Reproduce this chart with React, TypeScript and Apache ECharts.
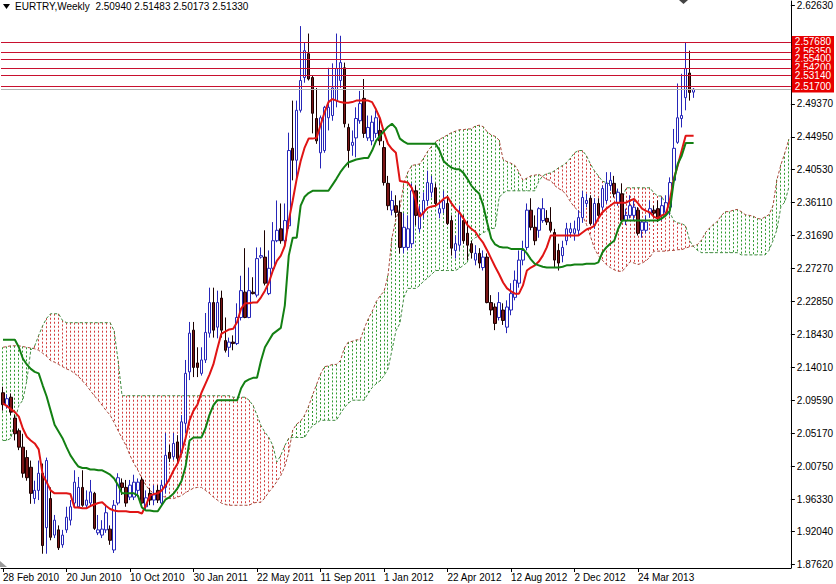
import React, { useEffect, useRef } from "react";
import * as echarts from "echarts";

// Weekly EURTRY candles, first bar = week of 28 Feb 2010
const opens = [
  2.106,2.089,2.100,2.072,2.055,2.033,2.019,2.006,1.964,1.975,
  1.998,1.925,1.964,1.915,1.922,1.902,1.922,1.935,1.958,1.953,
  1.979,1.955,1.958,1.971,1.918,1.915,1.922,1.923,1.895,1.958,
  1.985,1.979,1.966,1.966,1.975,1.989,1.953,1.971,1.962,1.975,
  1.958,1.979,2.026,2.020,2.040,2.025,2.065,2.134,2.190,2.146,
  2.132,2.150,2.186,2.227,2.194,2.233,2.176,2.167,2.174,2.172,
  2.207,2.241,2.207,2.241,2.237,2.288,2.288,2.239,2.273,2.310,
  2.326,2.310,2.330,2.434,2.418,2.485,2.529,2.561,2.529,2.474,
  2.428,2.431,2.475,2.478,2.498,2.525,2.542,2.462,2.438,2.448,
  2.471,2.501,2.448,2.444,2.454,2.458,2.435,2.387,2.351,2.357,
  2.348,2.301,2.301,2.306,2.377,2.326,2.347,2.364,2.375,2.381,
  2.347,2.353,2.360,2.337,2.297,2.304,2.337,2.320,2.306,2.284,
  2.293,2.274,2.288,2.227,2.221,2.207,2.217,2.194,2.217,2.234,
  2.253,2.284,2.301,2.351,2.328,2.324,2.337,2.340,2.335,2.321,
  2.297,2.290,2.310,2.321,2.320,2.324,2.341,2.360,2.367,2.331,
  2.360,2.355,2.364,2.384,2.387,2.361,2.373,2.337,2.344,2.344,
  2.351,2.324,2.324,2.347,2.351,2.353,2.344,2.348,2.355,2.391,
  2.442,2.474,2.502,2.535,2.5094,
];
const closes = [
  2.090,2.098,2.080,2.051,2.033,1.998,1.992,1.971,1.975,1.998,
  1.901,2.015,1.912,1.935,1.898,1.915,1.939,1.953,1.986,1.979,
  1.955,1.962,1.973,1.924,1.922,1.923,1.945,1.908,1.955,1.992,
  1.979,1.958,1.982,1.986,1.986,1.958,1.965,1.962,1.969,1.962,
  1.982,2.022,2.018,2.038,2.018,2.067,2.132,2.186,2.140,2.140,
  2.150,2.187,2.227,2.190,2.227,2.190,2.163,2.174,2.172,2.207,
  2.243,2.207,2.243,2.239,2.286,2.290,2.253,2.273,2.310,2.324,
  2.310,2.337,2.431,2.418,2.485,2.525,2.565,2.527,2.481,2.444,
  2.475,2.489,2.489,2.515,2.541,2.549,2.467,2.431,2.442,2.474,
  2.494,2.454,2.462,2.469,2.475,2.444,2.388,2.357,2.364,2.348,
  2.301,2.328,2.326,2.377,2.344,2.348,2.364,2.388,2.387,2.360,
  2.353,2.364,2.333,2.300,2.306,2.347,2.310,2.304,2.294,2.293,
  2.280,2.288,2.227,2.217,2.199,2.227,2.203,2.221,2.239,2.257,
  2.284,2.297,2.351,2.328,2.310,2.353,2.353,2.335,2.324,2.284,
  2.280,2.301,2.326,2.326,2.326,2.341,2.368,2.364,2.333,2.360,
  2.344,2.380,2.387,2.391,2.373,2.375,2.337,2.344,2.357,2.355,
  2.320,2.335,2.335,2.353,2.347,2.340,2.357,2.361,2.388,2.434,
  2.475,2.478,2.541,2.509,2.5133,
];
const lows = [
  2.082,2.085,2.076,2.042,2.029,1.992,1.988,1.957,1.957,1.962,
  1.890,1.890,1.908,1.911,1.895,1.898,1.918,1.928,1.953,1.951,
  1.953,1.951,1.953,1.922,1.915,1.911,1.918,1.902,1.891,1.955,
  1.969,1.953,1.962,1.962,1.966,1.953,1.949,1.955,1.955,1.958,
  1.955,1.971,2.013,2.016,2.013,2.022,2.052,2.123,2.127,2.127,
  2.129,2.146,2.180,2.180,2.179,2.180,2.160,2.154,2.163,2.170,
  2.203,2.206,2.206,2.238,2.234,2.286,2.250,2.237,2.270,2.308,
  2.306,2.306,2.326,2.391,2.391,2.482,2.522,2.525,2.454,2.440,
  2.407,2.428,2.458,2.471,2.489,2.515,2.462,2.408,2.424,2.422,
  2.467,2.448,2.444,2.438,2.448,2.438,2.384,2.351,2.344,2.341,
  2.293,2.293,2.297,2.300,2.331,2.321,2.340,2.357,2.368,2.357,
  2.340,2.347,2.331,2.290,2.286,2.297,2.306,2.284,2.286,2.277,
  2.273,2.270,2.226,2.210,2.190,2.203,2.197,2.186,2.210,2.230,
  2.247,2.277,2.297,2.324,2.304,2.314,2.334,2.331,2.321,2.274,
  2.270,2.281,2.304,2.314,2.310,2.317,2.334,2.355,2.331,2.326,
  2.340,2.351,2.360,2.377,2.368,2.357,2.334,2.331,2.340,2.337,
  2.317,2.314,2.320,2.341,2.341,2.335,2.337,2.344,2.344,2.387,
  2.440,2.462,2.485,2.498,2.50173,
];
const highs = [
  2.114,2.104,2.105,2.076,2.058,2.051,2.029,2.015,1.988,2.015,
  2.011,2.019,1.979,1.942,1.928,1.922,1.953,1.962,2.002,1.993,
  2.002,1.975,1.989,1.973,1.942,1.935,1.955,1.928,1.962,1.998,
  1.991,1.989,1.989,1.996,1.991,1.993,1.975,1.978,1.982,1.982,
  1.989,2.052,2.036,2.052,2.049,2.076,2.150,2.201,2.201,2.167,
  2.167,2.213,2.247,2.247,2.243,2.243,2.207,2.180,2.183,2.226,
  2.263,2.300,2.274,2.261,2.301,2.301,2.324,2.297,2.335,2.364,
  2.360,2.360,2.455,2.498,2.498,2.598,2.576,2.588,2.532,2.515,
  2.478,2.491,2.542,2.548,2.588,2.585,2.549,2.467,2.458,2.489,
  2.511,2.527,2.478,2.478,2.485,2.475,2.444,2.397,2.377,2.371,
  2.364,2.347,2.344,2.387,2.384,2.357,2.375,2.404,2.397,2.387,
  2.364,2.377,2.371,2.344,2.317,2.357,2.344,2.337,2.310,2.304,
  2.300,2.297,2.293,2.237,2.226,2.241,2.226,2.230,2.253,2.270,
  2.297,2.310,2.360,2.367,2.344,2.355,2.367,2.351,2.355,2.326,
  2.306,2.310,2.334,2.334,2.337,2.351,2.377,2.373,2.371,2.367,
  2.367,2.384,2.402,2.402,2.397,2.380,2.387,2.353,2.371,2.364,
  2.355,2.337,2.344,2.364,2.357,2.364,2.368,2.371,2.395,2.460,
  2.521,2.534,2.576,2.565,2.51483,
];

// Ichimoku lines
const tenkan = [
  2.092,2.088,2.084,2.080,2.074,2.058,2.047,2.042,2.038,2.030,
  1.996,1.986,1.975,1.971,1.971,1.971,1.971,1.970,1.952,1.952,
  1.951,1.951,1.954,1.956,1.958,1.959,1.954,1.950,1.948,1.947,
  1.947,1.947,1.946,1.946,1.946,1.944,1.955,1.968,1.970,1.971,
  1.975,1.982,1.991,2.002,2.011,2.026,2.045,2.069,2.082,2.090,
  2.106,2.118,2.130,2.144,2.165,2.185,2.188,2.191,2.192,2.201,
  2.219,2.226,2.226,2.227,2.227,2.234,2.243,2.254,2.270,2.283,
  2.290,2.303,2.337,2.364,2.393,2.417,2.435,2.447,2.447,2.448,
  2.465,2.482,2.496,2.500,2.498,2.496,2.495,2.495,2.496,2.498,
  2.498,2.498,2.498,2.496,2.486,2.474,2.455,2.440,2.433,2.428,
  2.390,2.389,2.388,2.381,2.364,2.342,2.348,2.354,2.356,2.357,
  2.361,2.366,2.369,2.360,2.353,2.348,2.340,2.331,2.326,2.322,
  2.314,2.307,2.297,2.286,2.275,2.265,2.254,2.246,2.242,2.239,
  2.239,2.250,2.270,2.274,2.277,2.282,2.290,2.301,2.317,2.317,
  2.317,2.317,2.317,2.317,2.317,2.317,2.321,2.325,2.327,2.330,
  2.340,2.348,2.353,2.357,2.361,2.361,2.361,2.361,2.364,2.366,
  2.360,2.353,2.350,2.348,2.342,2.340,2.344,2.346,2.364,2.393,
  2.411,2.431,2.451,2.451,2.451,
];
const kijun = [
  2.177,2.177,2.177,2.177,2.167,2.152,2.144,2.138,2.134,2.132,
  2.116,2.101,2.082,2.063,2.054,2.045,2.033,2.022,2.014,2.007,
  2.005,2.005,2.003,2.003,2.002,2.002,1.999,1.996,1.991,1.982,
  1.971,1.971,1.971,1.971,1.968,1.952,1.948,1.948,1.947,1.947,
  1.955,1.963,1.966,1.971,1.978,1.988,2.007,2.042,2.046,2.046,
  2.046,2.058,2.076,2.089,2.096,2.096,2.096,2.096,2.096,2.096,
  2.112,2.121,2.124,2.126,2.126,2.149,2.167,2.176,2.185,2.189,
  2.193,2.223,2.290,2.314,2.314,2.357,2.369,2.374,2.377,2.377,
  2.377,2.377,2.377,2.385,2.393,2.402,2.409,2.415,2.417,2.419,
  2.420,2.421,2.421,2.431,2.444,2.451,2.457,2.463,2.467,2.461,
  2.447,2.443,2.440,2.440,2.440,2.440,2.440,2.440,2.440,2.440,
  2.431,2.417,2.412,2.408,2.406,2.406,2.401,2.393,2.384,2.378,
  2.373,2.357,2.334,2.313,2.305,2.302,2.301,2.301,2.299,2.299,
  2.299,2.299,2.293,2.285,2.279,2.277,2.275,2.274,2.274,2.274,
  2.274,2.275,2.277,2.277,2.278,2.278,2.278,2.279,2.279,2.279,
  2.281,2.294,2.301,2.306,2.310,2.326,2.337,2.337,2.337,2.337,
  2.337,2.337,2.337,2.337,2.337,2.337,2.340,2.344,2.350,2.390,
  2.413,2.424,2.441,2.441,2.441,
];
const spanA = [
  2.167,2.168,2.169,2.169,2.169,2.168,2.167,2.166,2.165,2.163,
  2.159,2.155,2.149,2.147,2.144,2.141,2.138,2.136,2.132,2.128,
  2.122,2.116,2.109,2.102,2.096,2.089,2.082,2.076,2.066,2.055,
  2.045,2.035,2.022,2.011,2.002,1.991,1.982,1.975,1.971,1.968,
  1.967,1.966,1.964,1.964,1.966,1.968,1.972,1.975,1.978,1.979,
  1.979,1.975,1.971,1.966,1.962,1.958,1.956,1.955,1.955,1.955,
  1.955,1.955,1.955,1.958,1.959,1.959,1.965,1.973,1.979,1.987,
  1.995,2.007,2.026,2.056,2.064,2.068,2.076,2.088,2.103,2.117,
  2.131,2.141,2.142,2.144,2.144,2.149,2.166,2.174,2.175,2.177,
  2.177,2.192,2.205,2.215,2.228,2.236,2.242,2.263,2.314,2.339,
  2.354,2.387,2.402,2.411,2.412,2.413,2.421,2.430,2.437,2.443,
  2.446,2.449,2.452,2.455,2.457,2.459,2.459,2.460,2.460,2.464,
  2.465,2.463,2.456,2.452,2.450,2.445,2.419,2.416,2.414,2.411,
  2.402,2.391,2.394,2.397,2.398,2.399,2.396,2.392,2.391,2.384,
  2.380,2.377,2.371,2.362,2.355,2.350,2.344,2.332,2.316,2.300,
  2.290,2.284,2.278,2.274,2.271,2.269,2.269,2.275,2.282,2.280,
  2.278,2.280,2.283,2.288,2.296,2.296,2.296,2.296,2.297,2.297,
  2.298,2.298,2.300,2.302,2.303,2.305,2.311,2.321,2.327,2.332,
  2.336,2.344,2.349,2.349,2.351,2.352,2.349,2.345,2.344,2.343,
  2.340,2.339,2.342,2.345,2.357,2.392,2.412,2.428,2.446,
];
const spanB = [
  2.042,2.042,2.045,2.069,2.089,2.096,2.122,2.163,2.169,2.183,
  2.196,2.206,2.212,2.212,2.212,2.203,2.200,2.200,2.200,2.200,
  2.200,2.200,2.200,2.200,2.200,2.200,2.200,2.200,2.189,2.149,
  2.102,2.102,2.102,2.102,2.102,2.102,2.102,2.102,2.102,2.102,
  2.102,2.102,2.102,2.102,2.102,2.102,2.102,2.102,2.102,2.102,
  2.102,2.102,2.102,2.102,2.102,2.102,2.102,2.102,2.100,2.100,
  2.100,2.100,2.096,2.089,2.076,2.062,2.053,2.046,2.035,2.013,
  2.022,2.035,2.045,2.046,2.046,2.046,2.046,2.055,2.062,2.065,
  2.069,2.069,2.069,2.069,2.069,2.078,2.086,2.092,2.096,2.096,
  2.096,2.096,2.105,2.113,2.118,2.122,2.129,2.138,2.163,2.189,
  2.199,2.234,2.246,2.246,2.246,2.250,2.256,2.260,2.265,2.270,
  2.270,2.270,2.270,2.270,2.270,2.273,2.277,2.281,2.310,2.314,
  2.317,2.321,2.323,2.326,2.327,2.368,2.374,2.377,2.377,2.377,
  2.377,2.377,2.377,2.377,2.377,2.390,2.397,2.400,2.401,2.404,
  2.408,2.411,2.415,2.421,2.428,2.431,2.431,2.424,2.413,2.404,
  2.397,2.390,2.388,2.386,2.380,2.373,2.366,2.381,2.381,2.381,
  2.381,2.381,2.381,2.381,2.374,2.370,2.370,2.357,2.348,2.337,
  2.334,2.333,2.330,2.310,2.302,2.297,2.294,2.294,2.294,2.294,
  2.294,2.294,2.294,2.294,2.294,2.294,2.291,2.291,2.291,2.291,
  2.291,2.291,2.291,2.297,2.310,2.325,2.356,2.362,2.382,
];

const levels = [2.5768, 2.5635, 2.554, 2.542, 2.5314, 2.517];
const bidPrice = 2.5133;
const yTicks = [
  1.8762, 1.9204, 1.9633, 2.0075, 2.0517, 2.0959, 2.1401, 2.1843,
  2.2285, 2.2727, 2.3169, 2.3611, 2.4053, 2.4495, 2.4937, 2.6263,
];
const xTickLabels = [
  "28 Feb 2010", "20 Jun 2010", "10 Oct 2010", "30 Jan 2011", "22 May 2011",
  "11 Sep 2011", "1 Jan 2012", "22 Apr 2012", "12 Aug 2012", "2 Dec 2012", "24 Mar 2013",
];
const headerText = "EURTRY,Weekly  2.50940 2.51483 2.50173 2.51330";

const WEEKS_PER_LABEL = 16;
const FONT = "'Liberation Sans', Arial, sans-serif";
const HATCH_GREEN = "#2f9a2f";
const HATCH_RED = "#d23c3c";

export default function App() {
  const ref = useRef<HTMLDivElement>(null);
  useEffect(() => {
    if (!ref.current) return;
    const chart = echarts.init(ref.current, null, { renderer: "svg" });
    const categories = spanA.map((_, i) => String(i));
    const candles = opens.map((o, i) => [o, closes[i], lows[i], highs[i]]);
    const showTick = (idx: number) =>
      idx % WEEKS_PER_LABEL === 0 && idx / WEEKS_PER_LABEL < xTickLabels.length;

    const levelLines = levels.map((v) => ({
      yAxis: v,
      name: v.toFixed(5),
      lineStyle: { color: "#c8102e", width: 1, type: "solid" },
    }));

    chart.setOption({
      animation: false,
      backgroundColor: "#ffffff",
      textStyle: { fontFamily: FONT },
      grid: { left: -1.5, right: 41.5, top: 0, bottom: 16, containLabel: false },
      xAxis: {
        type: "category",
        data: categories,
        boundaryGap: true,
        axisLine: { show: true, lineStyle: { color: "#000", width: 1 } },
        axisTick: {
          show: true,
          alignWithLabel: true,
          interval: (idx: number) => showTick(idx),
          length: 4,
          lineStyle: { color: "#000" },
        },
        axisLabel: {
          interval: (idx: number) => showTick(idx),
          formatter: (_v: string, idx: number) => xTickLabels[idx / WEEKS_PER_LABEL] ?? "",
          align: "left",
          margin: 4,
          fontSize: 10,
          color: "#000",
          fontFamily: FONT,
        },
        splitLine: { show: false },
      },
      yAxis: {
        type: "value",
        position: "right",
        min: 1.87084,
        max: 2.6316,
        scale: true,
        axisLine: { show: true, onZero: false, lineStyle: { color: "#000", width: 1 } },
        axisTick: { show: true, length: 4, lineStyle: { color: "#000" }, customValues: yTicks },
        axisLabel: {
          customValues: yTicks,
          formatter: (v: number) => v.toFixed(5),
          margin: 6,
          fontSize: 10,
          color: "#000",
          fontFamily: FONT,
        },
        splitLine: { show: false },
      },
      series: [
        {
          type: "custom",
          name: "kumo",
          data: spanA.map((a, i) => [i, a, spanB[i]]),
          encode: { x: 0, y: [1, 2] },
          clip: true,
          silent: true,
          z: 1,
          renderItem: (params: any, api: any) => {
            const idx = params.dataIndex;
            const a = spanA[idx];
            const b = spanB[idx];
            const p1 = api.coord([idx, a]);
            const p2 = api.coord([idx, b]);
            const x = Math.round(p1[0] - 0.5) + 0.5;
            return {
              type: "line",
              shape: { x1: x, y1: Math.min(p1[1], p2[1]), x2: x, y2: Math.max(p1[1], p2[1]) },
              style: { stroke: a >= b ? HATCH_GREEN : HATCH_RED, lineWidth: 1, lineDash: [2, 2] },
            };
          },
        },
        {
          type: "line",
          name: "Senkou A",
          data: spanA,
          symbol: "none",
          silent: true,
          z: 2,
          lineStyle: { color: "#a8483a", width: 1, type: [3, 2] },
        },
        {
          type: "line",
          name: "Senkou B",
          data: spanB,
          symbol: "none",
          silent: true,
          z: 2,
          lineStyle: { color: "#3f8a3f", width: 1, type: [3, 2] },
        },
        {
          type: "candlestick",
          name: "EURTRY",
          data: candles,
          barWidth: 3,
          silent: true,
          z: 3,
          itemStyle: {
            color: "#ffffff",
            color0: "#7a1616",
            borderColor: "#2626b8",
            borderColor0: "#1a0000",
            borderWidth: 1,
          },
        },
        {
          type: "line",
          name: "Tenkan",
          data: tenkan,
          symbol: "none",
          silent: true,
          z: 4,
          lineStyle: { color: "#e01414", width: 2 },
        },
        {
          type: "line",
          name: "Kijun",
          data: kijun,
          symbol: "none",
          silent: true,
          z: 4,
          lineStyle: { color: "#138013", width: 2 },
          markLine: {
            silent: true,
            symbol: ["none", "none"],
            animation: false,
            precision: 5,
            data: [
              {
                yAxis: bidPrice,
                name: "bid",
                lineStyle: { color: "#b4b4b4", width: 1, type: "solid" },
                label: { show: false },
              },
              ...levelLines,
            ],
            label: {
              show: true,
              position: "end",
              distance: 1,
              formatter: "{b}",
              color: "#ffffff",
              backgroundColor: "#e80000",
              padding: [1, 3, 1, 3],
              fontSize: 10,
              fontFamily: FONT,
            },
          },
        },
      ],
      graphic: [
        {
          type: "polygon",
          shape: { points: [[3, 4], [10, 4], [6.5, 9]] },
          style: { fill: "#000" },
        },
        {
          type: "text",
          x: 15,
          y: 1,
          style: { text: headerText, fill: "#000", fontSize: 10, fontFamily: FONT, verticalAlign: "top" },
        },
        {
          type: "polygon",
          shape: { points: [[679, 0], [688, 0], [683.5, 4]] },
          style: { fill: "#444" },
        },
        {
          type: "polygon",
          shape: { points: [[0, 561], [7, 567], [0, 567]] },
          style: { fill: "#9a9a9a" },
        },
      ],
    });
    return () => chart.dispose();
  }, []);
  return (
    <div
      ref={ref}
      style={{ position: "fixed", left: 0, top: 0, width: 836, height: 584, background: "#fff" }}
    />
  );
}
